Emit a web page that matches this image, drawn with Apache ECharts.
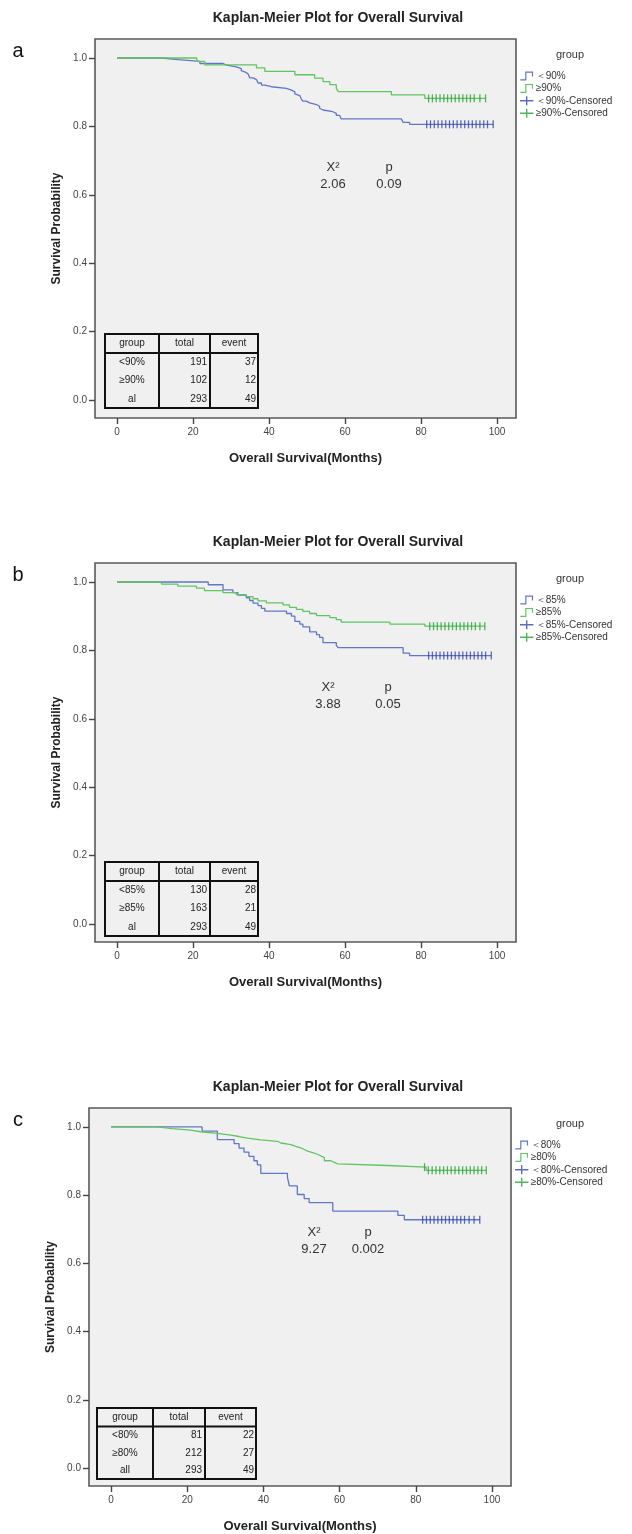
<!DOCTYPE html>
<html>
<head>
<meta charset="utf-8">
<script src="https://cdn.jsdelivr.net/npm/echarts@6/dist/echarts.min.js"></script>
<style>
  html, body { margin: 0; padding: 0; background: #ffffff; }
  #chart { width: 632px; height: 1534px; }
</style>
</head>
<body>
<div id="chart"></div>
<script>
// ---- Kaplan-Meier estimates (months, survival probability) ----
const aLowTimes  = [0, 11.7, 16.1, 21.8, 27.9, 28.8, 31.4, 32.7, 33.2, 33.9, 34.5, 34.9, 35.8, 36.7, 37.1, 38.0, 38.9, 40.6, 44.6, 45.9, 46.8, 47.2, 48.1, 48.5, 48.9, 49.8, 50.7, 52.5, 53.3, 53.8, 54.2, 56.8, 57.7, 58.6, 59.0, 74.8, 75.3, 77.0];
const aLowSurv   = [1, .995, .990, .984, .979, .974, .969, .963, .958, .953, .948, .942, .937, .932, .927, .921, .916, .911, .906, .901, .895, .890, .885, .880, .874, .869, .864, .859, .853, .848, .843, .838, .832, .827, .822, .817, .812, .806];
const aLowCens   = [81.5, 82.5, 83.5, 84.5, 85.5, 86.5, 87.5, 88.5, 89.5, 90.5, 91.5, 92.5, 93.5, 94.5, 95.5, 96.5, 97.5, 99];
const aHighTimes = [0, 21.0, 23.1, 36.7, 38.9, 46.8, 52.0, 54.2, 56.0, 57.7, 58.2, 72.2, 81.0];
const aHighSurv  = [1, .990, .980, .971, .961, .951, .941, .931, .922, .912, .902, .892, .882];
const aHighCens  = [82, 83, 84, 85, 86, 87, 88, 89, 90, 91, 92, 93, 94, 95.5, 97];

const bLowTimes  = [0, 24.0, 27.9, 30.5, 31.8, 34.0, 34.9, 35.8, 37.1, 38.0, 38.9, 44.6, 45.9, 46.8, 48.1, 48.9, 50.7, 52.5, 53.3, 54.2, 57.7, 58.2, 75.3, 77.0];
const bLowSurv   = [1, .992, .977, .969, .962, .954, .946, .938, .931, .923, .915, .908, .900, .885, .877, .869, .854, .846, .838, .823, .815, .808, .792, .785];
const bLowCens   = [82, 83, 84, 85, 86, 87, 88, 89, 90, 91, 92, 93, 94, 95, 96, 97, 98.5];
const bHighTimes = [0, 11.7, 16.0, 20.9, 23.0, 27.9, 31.4, 34.0, 35.8, 37.1, 39.3, 43.7, 45.4, 47.2, 48.9, 50.7, 52.5, 56.0, 57.7, 59.0, 71.8, 81.0];
const bHighSurv  = [1, .994, .988, .982, .975, .969, .963, .957, .951, .945, .939, .933, .926, .920, .914, .908, .902, .896, .890, .883, .877, .871];
const bHighCens  = [82.3, 83.3, 84.3, 85.3, 86.3, 87.3, 88.3, 89.3, 90.3, 91.3, 92.3, 93.3, 94.3, 95.5, 96.8];

const cLowTimes  = [0, 23.9, 27.9, 32.3, 33.6, 34.9, 36.2, 37.5, 38.4, 39.3, 46.3, 46.8, 48.9, 50.7, 52.0, 58.2, 75.3, 77.0];
const cLowSurv   = [1, .988, .963, .951, .938, .926, .914, .901, .889, .864, .852, .827, .802, .790, .778, .753, .741, .728];
const cLowCens   = [81.8, 82.8, 83.8, 84.8, 85.8, 86.8, 87.8, 88.8, 89.8, 90.8, 91.8, 92.8, 94.0, 95.3, 96.8];
const cHighTimes = [0, 12.1, 16.0, 20.9, 23.5, 27.9, 31.4, 33.6, 35.8, 39.3, 43.7, 44.6, 47.2, 48.5, 49.8, 50.7, 51.6, 52.9, 54.2, 55.1, 56.0, 57.7, 58.6, 59.5, 72.6, 82.7];
const cHighSurv  = [1, .995, .991, .986, .981, .976, .972, .967, .962, .958, .953, .948, .943, .939, .934, .929, .925, .920, .915, .910, .901, .896, .892, .887, .882, .873];
const cHighCens  = [82.3, 83.3, 84.3, 85.3, 86.3, 87.3, 88.3, 89.3, 90.3, 91.3, 92.3, 93.3, 94.3, 95.3, 96.3, 97.3, 98.5];

// ---- group labels, counts and log-rank results ----
const aGroups = ['<90%', '≥90%', 'al'];
const aTotals = [191, 102, 293];
const aEvents = [37, 12, 49];
const bGroups = ['<85%', '≥85%', 'al'];
const bTotals = [130, 163, 293];
const bEvents = [28, 21, 49];
const cGroups = ['<80%', '≥80%', 'all'];
const cTotals = [81, 212, 293];
const cEvents = [22, 27, 49];
const chiValues = ['2.06', '3.88', '9.27'];
const pValues   = ['0.09', '0.05', '0.002'];
const lowNames  = ['＜90%', '＜85%', '＜80%'];
const highNames = ['≥90%', '≥85%', '≥80%'];
const panelLetters = ['a', 'b', 'c'];

const xTicks = [0, 20, 40, 60, 80, 100];
const yTicks = [0, 0.2, 0.4, 0.6, 0.8, 1.0];

const FONT = 'Arial, "Liberation Sans", sans-serif';
const BLUE_LINE = '#6276c6', BLUE_MARK = '#3346b0';
const GREEN_LINE = '#62c462', GREEN_MARK = '#26a336';

const STEP_ICON = 'path://M0,8h5v-8h8v5h-1.2v-3.8h-5.6v8h-6.2z';
const PLUS_ICON = 'path://M6,0h1.4v9h-1.4zM0,3.8h13.4v1.4h-13.4z';

// layout of each panel's plot frame and annotations
const layout = [
  { left: 95, top: 39,   width: 421, height: 379, chiX: 333, pX: 389, chiDy: 128, tabX: 105, tabDy: 295, cols: [54, 51, 48], headH: 19, rowH: 18.3 },
  { left: 95, top: 563,  width: 421, height: 379, chiX: 328, pX: 388, chiDy: 124, tabX: 105, tabDy: 299, cols: [54, 51, 48], headH: 19, rowH: 18.3 },
  { left: 89, top: 1108, width: 422, height: 379, chiX: 314, pX: 368, chiDy: 124, tabX: 97,  tabDy: 300, cols: [56, 52, 51], headH: 18.5, rowH: 17.5 }
];

const panelData = [
  { lowT: aLowTimes, lowS: aLowSurv, lowC: aLowCens, highT: aHighTimes, highS: aHighSurv, highC: aHighCens, groups: aGroups, totals: aTotals, events: aEvents },
  { lowT: bLowTimes, lowS: bLowSurv, lowC: bLowCens, highT: bHighTimes, highS: bHighSurv, highC: bHighCens, groups: bGroups, totals: bTotals, events: bEvents },
  { lowT: cLowTimes, lowS: cLowSurv, lowC: cLowCens, highT: cHighTimes, highS: cHighSurv, highC: cHighCens, groups: cGroups, totals: cTotals, events: cEvents }
];

// survival value of a step function at time t
function survivalAt(times, surv, t) {
  let s = surv[0];
  for (let i = 0; i < times.length; i++) { if (times[i] <= t) s = surv[i]; }
  return s;
}
function stepData(times, surv, cens) {
  const pts = times.map((t, i) => [t, surv[i]]);
  const end = Math.max(times[times.length - 1], cens[cens.length - 1]);
  pts.push([end, surv[surv.length - 1]]);
  return pts;
}
function censorData(times, surv, cens) {
  return cens.map(t => [t, survivalAt(times, surv, t)]);
}

const grids = [], xAxes = [], yAxes = [], series = [], legends = [], graphics = [];

layout.forEach((L, k) => {
  const D = panelData[k];
  grids.push({
    left: L.left, top: L.top, width: L.width, height: L.height,
    show: true, backgroundColor: '#f0f0f0', borderColor: '#5a5a5a', borderWidth: 1.6
  });
  xAxes.push({
    type: 'value', gridIndex: k, min: -5.8, max: 105, position: 'bottom',
    name: 'Overall Survival(Months)', nameLocation: 'middle', nameGap: 34,
    nameTextStyle: { fontFamily: FONT, fontWeight: 'bold', fontSize: 13, color: '#222' },
    axisLine: { show: false, onZero: false },
    axisTick: { show: true, customValues: xTicks, length: 6, lineStyle: { color: '#444', width: 1.4 } },
    axisLabel: { customValues: xTicks, fontFamily: FONT, fontSize: 10, color: '#444', margin: 9 },
    splitLine: { show: false }
  });
  yAxes.push({
    type: 'value', gridIndex: k, min: -0.0526, max: 1.0556, position: 'left',
    name: 'Survival Probability', nameLocation: 'middle', nameGap: 31, nameRotate: 90,
    nameTextStyle: { fontFamily: FONT, fontWeight: 'bold', fontSize: 12, color: '#222' },
    axisLine: { show: false, onZero: false },
    axisTick: { show: true, customValues: yTicks, length: 6, lineStyle: { color: '#444', width: 1.4 } },
    axisLabel: { customValues: yTicks, fontFamily: FONT, fontSize: 10, color: '#444', margin: 8,
                 formatter: v => v.toFixed(1) },
    splitLine: { show: false }
  });

  const lowName = lowNames[k], highName = highNames[k];
  series.push({
    name: lowName, type: 'line', xAxisIndex: k, yAxisIndex: k, step: 'end',
    showSymbol: false, data: stepData(D.lowT, D.lowS, D.lowC),
    lineStyle: { color: BLUE_LINE, width: 1.3 }, itemStyle: { color: BLUE_LINE }, z: 3
  });
  series.push({
    name: highName, type: 'line', xAxisIndex: k, yAxisIndex: k, step: 'end',
    showSymbol: false, data: stepData(D.highT, D.highS, D.highC),
    lineStyle: { color: GREEN_LINE, width: 1.3 }, itemStyle: { color: GREEN_LINE }, z: 3
  });
  series.push({
    name: lowName + '-Censored', type: 'scatter', xAxisIndex: k, yAxisIndex: k,
    symbol: 'rect', symbolSize: [1.3, 8], data: censorData(D.lowT, D.lowS, D.lowC),
    itemStyle: { color: BLUE_MARK }, z: 4
  });
  series.push({
    name: highName + '-Censored', type: 'scatter', xAxisIndex: k, yAxisIndex: k,
    symbol: 'rect', symbolSize: [1.3, 8], data: censorData(D.highT, D.highS, D.highC),
    itemStyle: { color: GREEN_MARK }, z: 4
  });

  legends.push({
    orient: 'vertical', left: L.left + L.width + 4, top: L.top + 32, padding: 0,
    itemWidth: 14, itemHeight: 9, itemGap: 2.4,
    textStyle: { fontFamily: FONT, fontSize: 10, color: '#333', padding: [0, 0, 0, -3] },
    selectedMode: false,
    data: [
      { name: lowName, icon: STEP_ICON },
      { name: highName, icon: STEP_ICON },
      { name: lowName + '-Censored', icon: PLUS_ICON },
      { name: highName + '-Censored', icon: PLUS_ICON }
    ]
  });

  // panel title, letter and legend heading
  graphics.push({ type: 'text', x: 338, y: L.top - 21,
    style: { text: 'Kaplan-Meier Plot for Overall Survival', font: 'bold 14px ' + FONT, fill: '#222', align: 'center', verticalAlign: 'middle' } });
  graphics.push({ type: 'text', x: 18, y: L.top + 12,
    style: { text: panelLetters[k], font: '20px ' + FONT, fill: '#111', align: 'center', verticalAlign: 'middle' } });
  graphics.push({ type: 'text', x: 570, y: L.top + 16,
    style: { text: 'group', font: '11px ' + FONT, fill: '#333', align: 'center', verticalAlign: 'middle' } });

  // log-rank statistic
  const chiY = L.top + L.chiDy;
  [[L.chiX, 'X²', chiValues[k]], [L.pX, 'p', pValues[k]]].forEach(([x, head, val]) => {
    graphics.push({ type: 'text', x: x, y: chiY,
      style: { text: head, font: '13px ' + FONT, fill: '#333', align: 'center', verticalAlign: 'middle' } });
    graphics.push({ type: 'text', x: x, y: chiY + 17,
      style: { text: val, font: '13px ' + FONT, fill: '#333', align: 'center', verticalAlign: 'middle' } });
  });

  // group / total / event summary table
  const tx = L.tabX, ty = L.top + L.tabDy;
  const tw = L.cols[0] + L.cols[1] + L.cols[2];
  const th = L.headH + 3 * L.rowH;
  const tabStroke = { stroke: '#111', lineWidth: 2, fill: null };
  graphics.push({ type: 'rect', shape: { x: tx, y: ty, width: tw, height: th }, style: tabStroke, z: 10 });
  graphics.push({ type: 'line', shape: { x1: tx, y1: ty + L.headH, x2: tx + tw, y2: ty + L.headH }, style: tabStroke, z: 10 });
  graphics.push({ type: 'line', shape: { x1: tx + L.cols[0], y1: ty, x2: tx + L.cols[0], y2: ty + th }, style: tabStroke, z: 10 });
  graphics.push({ type: 'line', shape: { x1: tx + L.cols[0] + L.cols[1], y1: ty, x2: tx + L.cols[0] + L.cols[1], y2: ty + th }, style: tabStroke, z: 10 });
  const heads = ['group', 'total', 'event'];
  let cx = tx;
  heads.forEach((h, i) => {
    graphics.push({ type: 'text', x: cx + L.cols[i] / 2, y: ty + L.headH / 2,
      style: { text: h, font: '10px ' + FONT, fill: '#222', align: 'center', verticalAlign: 'middle' }, z: 11 });
    cx += L.cols[i];
  });
  D.groups.forEach((g, r) => {
    const ry = ty + L.headH + (r + 0.5) * L.rowH;
    graphics.push({ type: 'text', x: tx + L.cols[0] / 2, y: ry,
      style: { text: g, font: '10px ' + FONT, fill: '#222', align: 'center', verticalAlign: 'middle' }, z: 11 });
    graphics.push({ type: 'text', x: tx + L.cols[0] + L.cols[1] - 3, y: ry,
      style: { text: String(D.totals[r]), font: '10px ' + FONT, fill: '#222', align: 'right', verticalAlign: 'middle' }, z: 11 });
    graphics.push({ type: 'text', x: tx + tw - 2, y: ry,
      style: { text: String(D.events[r]), font: '10px ' + FONT, fill: '#222', align: 'right', verticalAlign: 'middle' }, z: 11 });
  });
});

const chart = echarts.init(document.getElementById('chart'), null, { renderer: 'canvas' });
chart.setOption({
  backgroundColor: '#ffffff',
  animation: false,
  grid: grids,
  xAxis: xAxes,
  yAxis: yAxes,
  legend: legends,
  series: series,
  graphic: graphics
});
</script>
</body>
</html>
